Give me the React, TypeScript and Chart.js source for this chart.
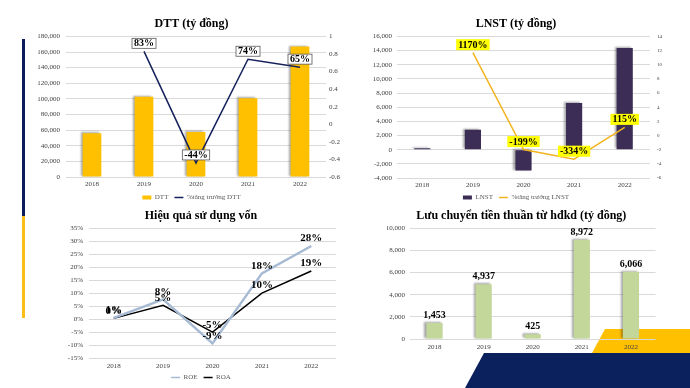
import React, { useEffect, useRef } from "react";
import { Chart, registerables } from "chart.js";

Chart.register(...registerables);

const FONT = "'Liberation Serif', 'Times New Roman', serif";
Chart.defaults.font.family = FONT;

// ---------- data ----------
const YEARS = ["2018", "2019", "2020", "2021", "2022"];
const DTT = [56000, 102800, 57700, 100800, 167000];
const DTT_GROWTH = [null, 0.83, -0.44, 0.74, 0.65];
const LNST = [200, 2800, -2950, 6600, 14350];
const LNST_GROWTH = [null, 11.7, -1.99, -3.34, 1.15];
const ROE = [0.006, 0.077, -0.092, 0.177, 0.282];
const ROA = [0.004, 0.054, -0.049, 0.101, 0.186];
const CFO = [1453, 4937, 425, 8972, 6066];

const TITLE_DTT = "DTT (tỷ đồng)";
const TITLE_LNST = "LNST (tỷ đồng)";
const TITLE_EFF = "Hiệu quả sử dụng vốn";
const TITLE_CFO = "Lưu chuyển tiền thuần từ hđkd (tỷ đồng)";

const GRID = "#d9d9d9";
const TICK = "#404040";

const pct = (v: number) => Math.round(v * 100) + "%";
const thousands = (v: number) => Number(v).toLocaleString("en-US");

// ---------- plugins ----------
const labelPlugin = {
  id: "valLabels",
  afterDatasetsDraw(chart: any) {
    const ctx = chart.ctx;
    chart.data.datasets.forEach((ds: any, di: number) => {
      const cfg = ds.lbl;
      if (!cfg) return;
      const meta = chart.getDatasetMeta(di);
      meta.data.forEach((el: any, i: number) => {
        const v = ds.data[i];
        if (v === null || v === undefined) return;
        const text = cfg.fmt(v);
        ctx.save();
        ctx.font = cfg.font;
        ctx.textAlign = "center";
        ctx.textBaseline = "middle";
        const x = el.x;
        const y = el.y + cfg.dy;
        const w = ctx.measureText(text).width;
        const bw = w + (cfg.padX ?? 4);
        const bh = cfg.h ?? 10;
        if (cfg.bg) {
          ctx.fillStyle = cfg.bg;
          ctx.fillRect(x - bw / 2, y - bh / 2, bw, bh);
        }
        if (cfg.border) {
          ctx.strokeStyle = cfg.border;
          ctx.lineWidth = 0.8;
          ctx.strokeRect(x - bw / 2, y - bh / 2, bw, bh);
        }
        ctx.fillStyle = cfg.color || "#000";
        ctx.fillText(text, x, y + 0.5);
        ctx.restore();
      });
    });
  },
};

const shadowPlugin = {
  id: "barShadow",
  beforeDatasetDraw(chart: any, args: any) {
    const ds = chart.data.datasets[args.index];
    if (!ds.shadow) return;
    const ctx = chart.ctx;
    ctx.save();
    ctx.shadowColor = "rgba(0,0,0,0.35)";
    ctx.shadowOffsetX = -2;
    ctx.shadowOffsetY = -1;
    ctx.shadowBlur = 2;
  },
  afterDatasetDraw(chart: any, args: any) {
    const ds = chart.data.datasets[args.index];
    if (!ds.shadow) return;
    chart.ctx.restore();
  },
};

function legendOpts(padding: number) {
  return {
    display: true,
    position: "bottom",
    labels: {
      font: { size: 7, family: FONT },
      color: "#595959",
      usePointStyle: true,
      pointStyleWidth: 9,
      boxHeight: 4,
      padding,
      sort: (a: any, b: any) => a.datasetIndex - b.datasetIndex,
      generateLabels(chart: any) {
        const items = Chart.defaults.plugins.legend.labels.generateLabels(chart);
        items.forEach((it: any) => {
          const ds = chart.data.datasets[it.datasetIndex];
          it.pointStyle = ds.legendStyle;
          if (ds.legendStyle === "line") {
            it.strokeStyle = ds.borderColor;
            it.lineWidth = 1.5;
          } else {
            it.lineWidth = 0;
            it.fillStyle = ds.backgroundColor;
          }
        });
        return items;
      },
    },
  };
}

function titleOpts(text: string, top: number, bottom: number) {
  return {
    display: true,
    text,
    color: "#000",
    font: { size: 12, weight: "bold", family: FONT },
    padding: { top, bottom },
  };
}

function xAxis(h: number, pad: number, offset = true) {
  return {
    type: "category",
    offset,
    grid: { display: false, drawTicks: false },
    border: { display: false },
    ticks: { font: { size: 7 }, color: TICK, padding: pad, autoSkip: false, maxRotation: 0 },
    afterFit: (s: any) => {
      s.height = h;
    },
  };
}

function yAxis(
  position: string,
  w: number,
  pad: number,
  min: number,
  max: number,
  step: number,
  fmt: (v: number) => string,
  grid: boolean,
  size = 7
) {
  return {
    type: "linear",
    position,
    min,
    max,
    grid: { display: grid, color: GRID, drawTicks: false, lineWidth: 1 },
    border: { display: false },
    ticks: { stepSize: step, font: { size }, color: TICK, padding: pad, callback: (v: any) => fmt(Number(v)) },
    afterFit: (s: any) => {
      s.width = w;
    },
  };
}

// ---------- chart configs ----------
function cfgDTT(): any {
  return {
    type: "bar",
    data: {
      labels: YEARS,
      datasets: [
        {
          type: "bar",
          label: "DTT",
          data: DTT,
          yAxisID: "y",
          backgroundColor: "#FFC000",
          barPercentage: 0.36,
          categoryPercentage: 1,
          order: 1,
          legendStyle: "rect",
          shadow: true,
        },
        {
          type: "line",
          label: "%tăng trưởng DTT",
          data: DTT_GROWTH,
          yAxisID: "y1",
          borderColor: "#15215a",
          backgroundColor: "#15215a",
          borderWidth: 1.5,
          pointRadius: 0,
          tension: 0,
          order: 0,
          legendStyle: "line",
          lbl: { fmt: pct, font: `bold 10px ${FONT}`, color: "#000", dy: -8, bg: "#fff", border: "#595959", h: 10 },
        },
      ],
    },
    options: {
      responsive: false,
      animation: false,
      layout: { padding: 0 },
      plugins: {
        title: titleOpts(TITLE_DTT, 17, 5),
        legend: legendOpts(6),
        tooltip: { enabled: false },
      },
      scales: {
        x: xAxis(11, 3),
        y: yAxis("left", 28, 6, 0, 180000, 20000, thousands, true),
        y1: yAxis("right", 19, 3, -0.6, 1, 0.2, (v) => String(Math.round(v * 10) / 10), false),
      },
    },
    plugins: [shadowPlugin, labelPlugin],
  };
}

function cfgLNST(): any {
  return {
    type: "bar",
    data: {
      labels: YEARS,
      datasets: [
        {
          type: "bar",
          label: "LNST",
          data: LNST,
          yAxisID: "y",
          backgroundColor: "#3b2d56",
          barPercentage: 0.32,
          categoryPercentage: 1,
          order: 1,
          legendStyle: "rect",
          shadow: true,
        },
        {
          type: "line",
          label: "%tăng trưởng LNST",
          data: LNST_GROWTH,
          yAxisID: "y1",
          borderColor: "#f2b520",
          backgroundColor: "#f2b520",
          borderWidth: 1.5,
          pointRadius: 0,
          tension: 0,
          order: 0,
          legendStyle: "line",
          lbl: { fmt: pct, font: `bold 10px ${FONT}`, color: "#000", dy: -8, bg: "#ffff00", h: 11 },
        },
      ],
    },
    options: {
      responsive: false,
      animation: false,
      layout: { padding: 0 },
      plugins: {
        title: titleOpts(TITLE_LNST, 17, 5),
        legend: legendOpts(6),
        tooltip: { enabled: false },
      },
      scales: {
        x: xAxis(10, 3),
        y: yAxis("left", 29, 5, -4000, 16000, 2000, thousands, true),
        y1: yAxis("right", 14, 7, -6, 14, 2, (v) => String(v), false, 5),
      },
    },
    plugins: [shadowPlugin, labelPlugin],
  };
}

function cfgEff(): any {
  return {
    type: "line",
    data: {
      labels: YEARS,
      datasets: [
        {
          label: "ROE",
          data: ROE,
          borderColor: "#a7bad4",
          backgroundColor: "#a7bad4",
          borderWidth: 2.5,
          pointRadius: 0,
          tension: 0,
          legendStyle: "line",
          lbl: { fmt: pct, font: `bold 11px ${FONT}`, color: "#000", dy: -8 },
        },
        {
          label: "ROA",
          data: ROA,
          borderColor: "#000000",
          backgroundColor: "#000000",
          borderWidth: 1.5,
          pointRadius: 0,
          tension: 0,
          legendStyle: "line",
          lbl: { fmt: pct, font: `bold 11px ${FONT}`, color: "#000", dy: -8 },
        },
      ],
    },
    options: {
      responsive: false,
      animation: false,
      layout: { padding: { right: 6 } },
      plugins: {
        title: titleOpts(TITLE_EFF, 13.5, 5.4),
        legend: legendOpts(6),
        tooltip: { enabled: false },
      },
      scales: {
        x: xAxis(9.5, 3, true),
        y: yAxis("left", 23, 6, -0.15, 0.35, 0.05, pct, true),
      },
    },
    plugins: [labelPlugin],
  };
}

function cfgCFO(): any {
  return {
    type: "bar",
    data: {
      labels: YEARS,
      datasets: [
        {
          label: "LCTT",
          data: CFO,
          backgroundColor: "#c4d79b",
          barPercentage: 0.33,
          categoryPercentage: 1,
          shadow: true,
          lbl: { fmt: thousands, font: `bold 10px ${FONT}`, color: "#000", dy: -8 },
        },
      ],
    },
    options: {
      responsive: false,
      animation: false,
      layout: { padding: { right: 1.5 } },
      plugins: {
        title: titleOpts(TITLE_CFO, 13.5, 5.4),
        legend: { display: false },
        tooltip: { enabled: false },
      },
      scales: {
        x: xAxis(12, 4),
        y: yAxis("left", 23, 5, 0, 10000, 1000, thousands, true),
      },
    },
    plugins: [shadowPlugin, labelPlugin],
  };
}

// ---------- components ----------
function ChartBox(props: { left: number; top: number; width: number; height: number; build: () => any }) {
  const ref = useRef<HTMLCanvasElement>(null);
  useEffect(() => {
    const c = new Chart(ref.current as HTMLCanvasElement, props.build());
    return () => c.destroy();
  }, []);
  return (
    <canvas
      ref={ref}
      width={props.width}
      height={props.height}
      style={{ position: "absolute", left: props.left, top: props.top, width: props.width, height: props.height }}
    />
  );
}

export default function App() {
  return (
    <div
      style={{
        position: "fixed",
        left: 0,
        top: 0,
        width: 690,
        height: 388,
        overflow: "hidden",
        background: "#ffffff",
      }}
    >
      <svg width={690} height={388} style={{ position: "absolute", left: 0, top: 0 }}>
        <rect x={22} y={39} width={3} height={177} fill="#0c1c5a" />
        <rect x={22} y={216} width={3} height={102} fill="#fbbf17" />
        <polygon points="605,329 690,329 690,353 592,353" fill="#ffc000" />
        <polygon points="484,353 690,353 690,388 465,388" fill="#0b215e" />
      </svg>
      <ChartBox left={38} top={0} width={307} height={211} build={cfgDTT} />
      <ChartBox left={368} top={0} width={296} height={211} build={cfgLNST} />
      <ChartBox left={66} top={195} width={276} height={196} build={cfgEff} />
      <ChartBox left={387} top={195} width={270} height={156} build={cfgCFO} />
    </div>
  );
}
